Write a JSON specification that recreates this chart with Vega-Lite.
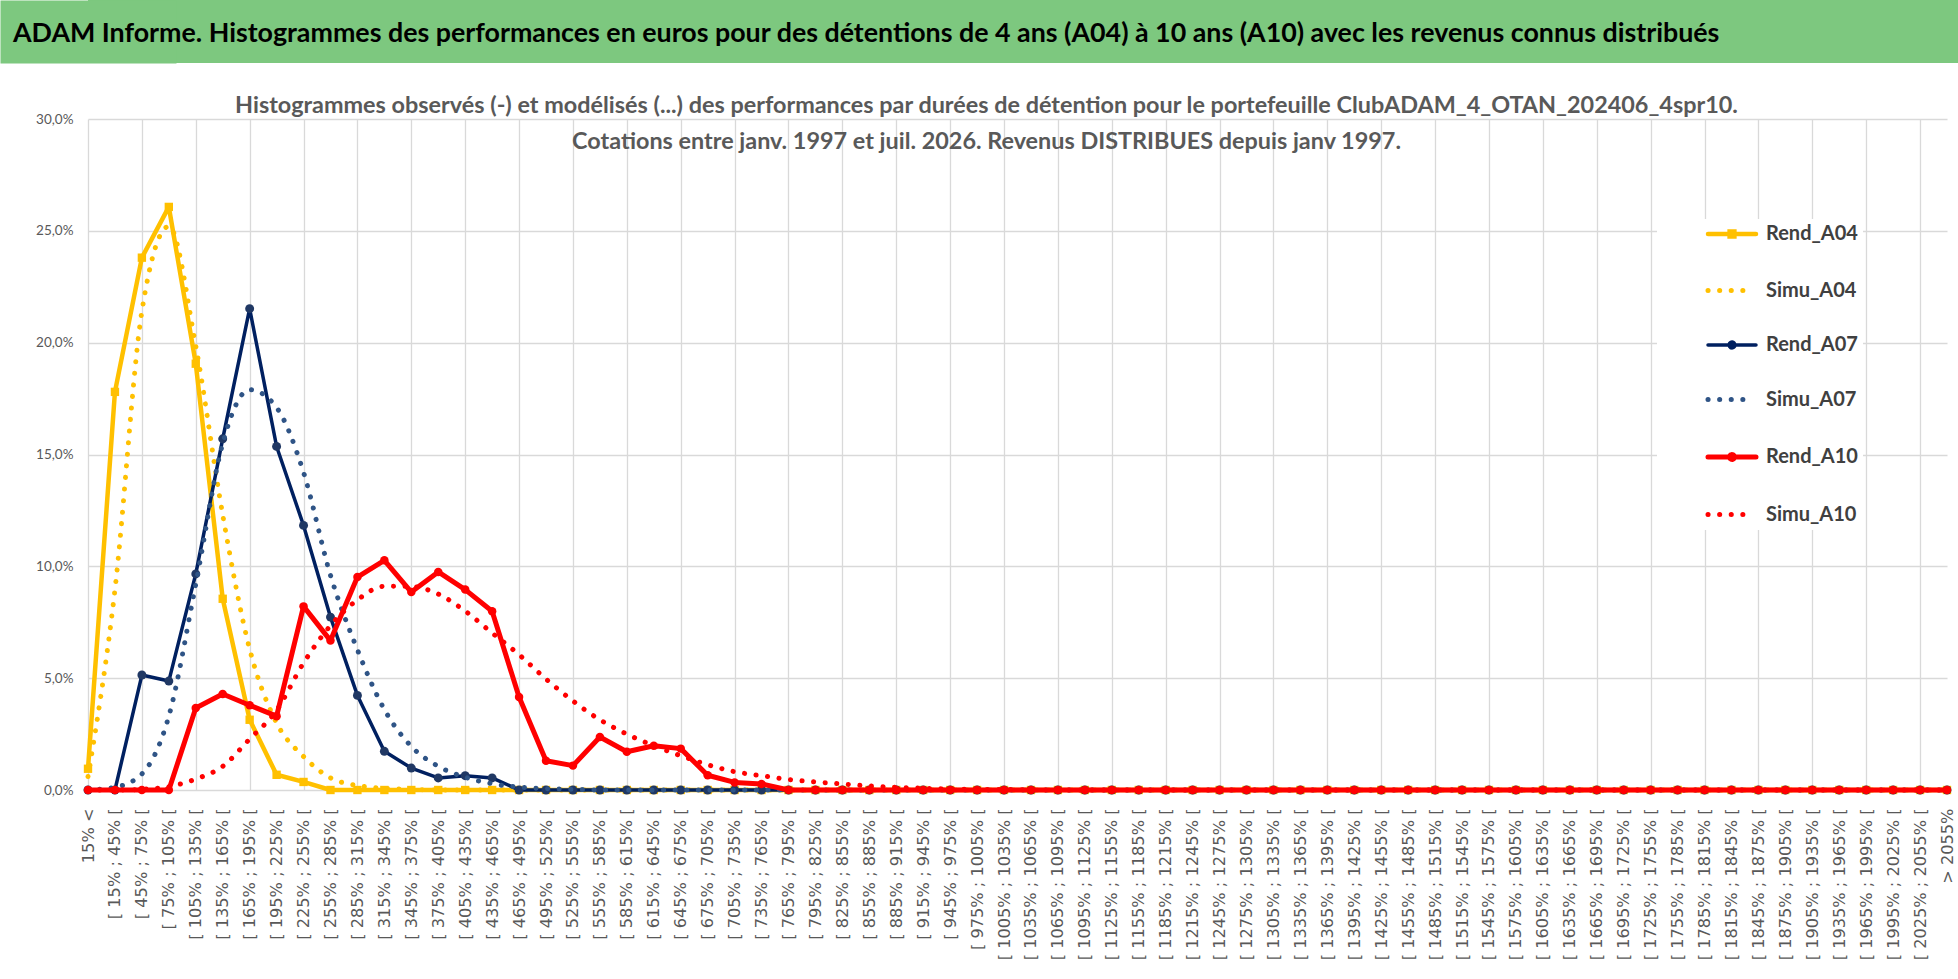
{
  "$schema": "https://vega.github.io/schema/vega-lite/v6.json",
  "background": "white",
  "padding": 0,
  "spacing": 30,
  "config": {"view": {"stroke": null}},
  "vconcat": [
    {
      "width": 1870,
      "height": 63,
      "view": {"fill": "#7DC87F", "stroke": null},
      "data": {"values": [{"t": "ADAM Informe. Histogrammes des performances en euros pour des détentions de 4 ans (A04) à 10 ans (A10) avec les revenus connus distribués"}]},
      "mark": {"type": "text", "align": "left", "baseline": "middle", "dx": -1010, "dy": 2, "font": "Lato", "fontSize": 26.8, "fontWeight": "bold", "color": "#000000"},
      "encoding": {
        "text": {"field": "t", "type": "nominal"},
        "y": {"datum": 0.5, "type": "quantitative", "scale": {"domain": [0, 1]},
              "axis": {"title": null, "labels": false, "ticks": false, "grid": false, "domain": true, "domainColor": "#7DC87F", "domainWidth": 176, "domainCap": "butt", "minExtent": 88, "maxExtent": 88}}
      }
    },
    {
      "width": 1859,
      "height": 671,
      "title": {
        "text": ["Histogrammes observés (-) et modélisés (...) des performances  par durées de détention pour  le portefeuille ClubADAM_4_OTAN_202406_4spr10.", "Cotations  entre janv. 1997 et juil. 2026. Revenus DISTRIBUES depuis janv 1997."],
        "font": "Lato", "fontSize": 23.4, "fontWeight": "bold", "color": "#595959",
        "anchor": "middle", "frame": "group", "offset": -42, "lineHeight": 36, "dx": -31
      },
      "data": {"values": [
{"c":"15% <","s":"Rend_A04","v":0.0095},{"c":"[ 15% ; 45% [","s":"Rend_A04","v":0.178},{"c":"[ 45% ; 75% [","s":"Rend_A04","v":0.238},{"c":"[ 75% ; 105% [","s":"Rend_A04","v":0.2607},{"c":"[ 105% ; 135% [","s":"Rend_A04","v":0.1906},{"c":"[ 135% ; 165% [","s":"Rend_A04","v":0.0855},{"c":"[ 165% ; 195% [","s":"Rend_A04","v":0.0314},{"c":"[ 195% ; 225% [","s":"Rend_A04","v":0.0068},{"c":"[ 225% ; 255% [","s":"Rend_A04","v":0.0036},{"c":"[ 255% ; 285% [","s":"Rend_A04","v":0},{"c":"[ 285% ; 315% [","s":"Rend_A04","v":0},{"c":"[ 315% ; 345% [","s":"Rend_A04","v":0},{"c":"[ 345% ; 375% [","s":"Rend_A04","v":0},{"c":"[ 375% ; 405% [","s":"Rend_A04","v":0},{"c":"[ 405% ; 435% [","s":"Rend_A04","v":0},{"c":"[ 435% ; 465% [","s":"Rend_A04","v":0},{"c":"[ 465% ; 495% [","s":"Rend_A04","v":0},{"c":"[ 495% ; 525% [","s":"Rend_A04","v":0},{"c":"[ 525% ; 555% [","s":"Rend_A04","v":0},{"c":"[ 555% ; 585% [","s":"Rend_A04","v":0},{"c":"[ 585% ; 615% [","s":"Rend_A04","v":0},{"c":"[ 615% ; 645% [","s":"Rend_A04","v":0},{"c":"[ 645% ; 675% [","s":"Rend_A04","v":0},{"c":"[ 675% ; 705% [","s":"Rend_A04","v":0},{"c":"[ 705% ; 735% [","s":"Rend_A04","v":0},{"c":"[ 735% ; 765% [","s":"Rend_A04","v":0},{"c":"[ 765% ; 795% [","s":"Rend_A04","v":0},{"c":"[ 795% ; 825% [","s":"Rend_A04","v":0},{"c":"[ 825% ; 855% [","s":"Rend_A04","v":0},{"c":"[ 855% ; 885% [","s":"Rend_A04","v":0},{"c":"[ 885% ; 915% [","s":"Rend_A04","v":0},{"c":"[ 915% ; 945% [","s":"Rend_A04","v":0},{"c":"[ 945% ; 975% [","s":"Rend_A04","v":0},{"c":"[ 975% ; 1005% [","s":"Rend_A04","v":0},{"c":"[ 1005% ; 1035% [","s":"Rend_A04","v":0},{"c":"[ 1035% ; 1065% [","s":"Rend_A04","v":0},{"c":"[ 1065% ; 1095% [","s":"Rend_A04","v":0},{"c":"[ 1095% ; 1125% [","s":"Rend_A04","v":0},{"c":"[ 1125% ; 1155% [","s":"Rend_A04","v":0},{"c":"[ 1155% ; 1185% [","s":"Rend_A04","v":0},{"c":"[ 1185% ; 1215% [","s":"Rend_A04","v":0},{"c":"[ 1215% ; 1245% [","s":"Rend_A04","v":0},{"c":"[ 1245% ; 1275% [","s":"Rend_A04","v":0},{"c":"[ 1275% ; 1305% [","s":"Rend_A04","v":0},{"c":"[ 1305% ; 1335% [","s":"Rend_A04","v":0},{"c":"[ 1335% ; 1365% [","s":"Rend_A04","v":0},{"c":"[ 1365% ; 1395% [","s":"Rend_A04","v":0},{"c":"[ 1395% ; 1425% [","s":"Rend_A04","v":0},{"c":"[ 1425% ; 1455% [","s":"Rend_A04","v":0},{"c":"[ 1455% ; 1485% [","s":"Rend_A04","v":0},{"c":"[ 1485% ; 1515% [","s":"Rend_A04","v":0},{"c":"[ 1515% ; 1545% [","s":"Rend_A04","v":0},{"c":"[ 1545% ; 1575% [","s":"Rend_A04","v":0},{"c":"[ 1575% ; 1605% [","s":"Rend_A04","v":0},{"c":"[ 1605% ; 1635% [","s":"Rend_A04","v":0},{"c":"[ 1635% ; 1665% [","s":"Rend_A04","v":0},{"c":"[ 1665% ; 1695% [","s":"Rend_A04","v":0},{"c":"[ 1695% ; 1725% [","s":"Rend_A04","v":0},{"c":"[ 1725% ; 1755% [","s":"Rend_A04","v":0},{"c":"[ 1755% ; 1785% [","s":"Rend_A04","v":0},{"c":"[ 1785% ; 1815% [","s":"Rend_A04","v":0},{"c":"[ 1815% ; 1845% [","s":"Rend_A04","v":0},{"c":"[ 1845% ; 1875% [","s":"Rend_A04","v":0},{"c":"[ 1875% ; 1905% [","s":"Rend_A04","v":0},{"c":"[ 1905% ; 1935% [","s":"Rend_A04","v":0},{"c":"[ 1935% ; 1965% [","s":"Rend_A04","v":0},{"c":"[ 1965% ; 1995% [","s":"Rend_A04","v":0},{"c":"[ 1995% ; 2025% [","s":"Rend_A04","v":0},{"c":"[ 2025% ; 2055% [","s":"Rend_A04","v":0},{"c":"> 2055%","s":"Rend_A04","v":0},
{"c":"15% <","s":"Simu_A04","v":0.006},{"c":"[ 15% ; 45% [","s":"Simu_A04","v":0.0895},{"c":"[ 45% ; 75% [","s":"Simu_A04","v":0.214},{"c":"[ 75% ; 105% [","s":"Simu_A04","v":0.252},{"c":"[ 105% ; 135% [","s":"Simu_A04","v":0.1985},{"c":"[ 135% ; 165% [","s":"Simu_A04","v":0.123},{"c":"[ 165% ; 195% [","s":"Simu_A04","v":0.063},{"c":"[ 195% ; 225% [","s":"Simu_A04","v":0.03},{"c":"[ 225% ; 255% [","s":"Simu_A04","v":0.015},{"c":"[ 255% ; 285% [","s":"Simu_A04","v":0.0054},{"c":"[ 285% ; 315% [","s":"Simu_A04","v":0.002},{"c":"[ 315% ; 345% [","s":"Simu_A04","v":0.0008},{"c":"[ 345% ; 375% [","s":"Simu_A04","v":0.0003},{"c":"[ 375% ; 405% [","s":"Simu_A04","v":0},{"c":"[ 405% ; 435% [","s":"Simu_A04","v":0},{"c":"[ 435% ; 465% [","s":"Simu_A04","v":0},{"c":"[ 465% ; 495% [","s":"Simu_A04","v":0},{"c":"[ 495% ; 525% [","s":"Simu_A04","v":0},{"c":"[ 525% ; 555% [","s":"Simu_A04","v":0},{"c":"[ 555% ; 585% [","s":"Simu_A04","v":0},{"c":"[ 585% ; 615% [","s":"Simu_A04","v":0},{"c":"[ 615% ; 645% [","s":"Simu_A04","v":0},{"c":"[ 645% ; 675% [","s":"Simu_A04","v":0},{"c":"[ 675% ; 705% [","s":"Simu_A04","v":0},{"c":"[ 705% ; 735% [","s":"Simu_A04","v":0},{"c":"[ 735% ; 765% [","s":"Simu_A04","v":0},{"c":"[ 765% ; 795% [","s":"Simu_A04","v":0},{"c":"[ 795% ; 825% [","s":"Simu_A04","v":0},{"c":"[ 825% ; 855% [","s":"Simu_A04","v":0},{"c":"[ 855% ; 885% [","s":"Simu_A04","v":0},{"c":"[ 885% ; 915% [","s":"Simu_A04","v":0},{"c":"[ 915% ; 945% [","s":"Simu_A04","v":0},{"c":"[ 945% ; 975% [","s":"Simu_A04","v":0},{"c":"[ 975% ; 1005% [","s":"Simu_A04","v":0},{"c":"[ 1005% ; 1035% [","s":"Simu_A04","v":0},{"c":"[ 1035% ; 1065% [","s":"Simu_A04","v":0},{"c":"[ 1065% ; 1095% [","s":"Simu_A04","v":0},{"c":"[ 1095% ; 1125% [","s":"Simu_A04","v":0},{"c":"[ 1125% ; 1155% [","s":"Simu_A04","v":0},{"c":"[ 1155% ; 1185% [","s":"Simu_A04","v":0},{"c":"[ 1185% ; 1215% [","s":"Simu_A04","v":0},{"c":"[ 1215% ; 1245% [","s":"Simu_A04","v":0},{"c":"[ 1245% ; 1275% [","s":"Simu_A04","v":0},{"c":"[ 1275% ; 1305% [","s":"Simu_A04","v":0},{"c":"[ 1305% ; 1335% [","s":"Simu_A04","v":0},{"c":"[ 1335% ; 1365% [","s":"Simu_A04","v":0},{"c":"[ 1365% ; 1395% [","s":"Simu_A04","v":0},{"c":"[ 1395% ; 1425% [","s":"Simu_A04","v":0},{"c":"[ 1425% ; 1455% [","s":"Simu_A04","v":0},{"c":"[ 1455% ; 1485% [","s":"Simu_A04","v":0},{"c":"[ 1485% ; 1515% [","s":"Simu_A04","v":0},{"c":"[ 1515% ; 1545% [","s":"Simu_A04","v":0},{"c":"[ 1545% ; 1575% [","s":"Simu_A04","v":0},{"c":"[ 1575% ; 1605% [","s":"Simu_A04","v":0},{"c":"[ 1605% ; 1635% [","s":"Simu_A04","v":0},{"c":"[ 1635% ; 1665% [","s":"Simu_A04","v":0},{"c":"[ 1665% ; 1695% [","s":"Simu_A04","v":0},{"c":"[ 1695% ; 1725% [","s":"Simu_A04","v":0},{"c":"[ 1725% ; 1755% [","s":"Simu_A04","v":0},{"c":"[ 1755% ; 1785% [","s":"Simu_A04","v":0},{"c":"[ 1785% ; 1815% [","s":"Simu_A04","v":0},{"c":"[ 1815% ; 1845% [","s":"Simu_A04","v":0},{"c":"[ 1845% ; 1875% [","s":"Simu_A04","v":0},{"c":"[ 1875% ; 1905% [","s":"Simu_A04","v":0},{"c":"[ 1905% ; 1935% [","s":"Simu_A04","v":0},{"c":"[ 1935% ; 1965% [","s":"Simu_A04","v":0},{"c":"[ 1965% ; 1995% [","s":"Simu_A04","v":0},{"c":"[ 1995% ; 2025% [","s":"Simu_A04","v":0},{"c":"[ 2025% ; 2055% [","s":"Simu_A04","v":0},{"c":"> 2055%","s":"Simu_A04","v":0},
{"c":"15% <","s":"Rend_A07","v":0},{"c":"[ 15% ; 45% [","s":"Rend_A07","v":0},{"c":"[ 45% ; 75% [","s":"Rend_A07","v":0.0514},{"c":"[ 75% ; 105% [","s":"Rend_A07","v":0.0487},{"c":"[ 105% ; 135% [","s":"Rend_A07","v":0.0966},{"c":"[ 135% ; 165% [","s":"Rend_A07","v":0.157},{"c":"[ 165% ; 195% [","s":"Rend_A07","v":0.2152},{"c":"[ 195% ; 225% [","s":"Rend_A07","v":0.1536},{"c":"[ 225% ; 255% [","s":"Rend_A07","v":0.1183},{"c":"[ 255% ; 285% [","s":"Rend_A07","v":0.0773},{"c":"[ 285% ; 315% [","s":"Rend_A07","v":0.0423},{"c":"[ 315% ; 345% [","s":"Rend_A07","v":0.0173},{"c":"[ 345% ; 375% [","s":"Rend_A07","v":0.0098},{"c":"[ 375% ; 405% [","s":"Rend_A07","v":0.0054},{"c":"[ 405% ; 435% [","s":"Rend_A07","v":0.0064},{"c":"[ 435% ; 465% [","s":"Rend_A07","v":0.0054},{"c":"[ 465% ; 495% [","s":"Rend_A07","v":0},{"c":"[ 495% ; 525% [","s":"Rend_A07","v":0},{"c":"[ 525% ; 555% [","s":"Rend_A07","v":0},{"c":"[ 555% ; 585% [","s":"Rend_A07","v":0},{"c":"[ 585% ; 615% [","s":"Rend_A07","v":0},{"c":"[ 615% ; 645% [","s":"Rend_A07","v":0},{"c":"[ 645% ; 675% [","s":"Rend_A07","v":0},{"c":"[ 675% ; 705% [","s":"Rend_A07","v":0},{"c":"[ 705% ; 735% [","s":"Rend_A07","v":0},{"c":"[ 735% ; 765% [","s":"Rend_A07","v":0},{"c":"[ 765% ; 795% [","s":"Rend_A07","v":0},{"c":"[ 795% ; 825% [","s":"Rend_A07","v":0},{"c":"[ 825% ; 855% [","s":"Rend_A07","v":0},{"c":"[ 855% ; 885% [","s":"Rend_A07","v":0},{"c":"[ 885% ; 915% [","s":"Rend_A07","v":0},{"c":"[ 915% ; 945% [","s":"Rend_A07","v":0},{"c":"[ 945% ; 975% [","s":"Rend_A07","v":0},{"c":"[ 975% ; 1005% [","s":"Rend_A07","v":0},{"c":"[ 1005% ; 1035% [","s":"Rend_A07","v":0},{"c":"[ 1035% ; 1065% [","s":"Rend_A07","v":0},{"c":"[ 1065% ; 1095% [","s":"Rend_A07","v":0},{"c":"[ 1095% ; 1125% [","s":"Rend_A07","v":0},{"c":"[ 1125% ; 1155% [","s":"Rend_A07","v":0},{"c":"[ 1155% ; 1185% [","s":"Rend_A07","v":0},{"c":"[ 1185% ; 1215% [","s":"Rend_A07","v":0},{"c":"[ 1215% ; 1245% [","s":"Rend_A07","v":0},{"c":"[ 1245% ; 1275% [","s":"Rend_A07","v":0},{"c":"[ 1275% ; 1305% [","s":"Rend_A07","v":0},{"c":"[ 1305% ; 1335% [","s":"Rend_A07","v":0},{"c":"[ 1335% ; 1365% [","s":"Rend_A07","v":0},{"c":"[ 1365% ; 1395% [","s":"Rend_A07","v":0},{"c":"[ 1395% ; 1425% [","s":"Rend_A07","v":0},{"c":"[ 1425% ; 1455% [","s":"Rend_A07","v":0},{"c":"[ 1455% ; 1485% [","s":"Rend_A07","v":0},{"c":"[ 1485% ; 1515% [","s":"Rend_A07","v":0},{"c":"[ 1515% ; 1545% [","s":"Rend_A07","v":0},{"c":"[ 1545% ; 1575% [","s":"Rend_A07","v":0},{"c":"[ 1575% ; 1605% [","s":"Rend_A07","v":0},{"c":"[ 1605% ; 1635% [","s":"Rend_A07","v":0},{"c":"[ 1635% ; 1665% [","s":"Rend_A07","v":0},{"c":"[ 1665% ; 1695% [","s":"Rend_A07","v":0},{"c":"[ 1695% ; 1725% [","s":"Rend_A07","v":0},{"c":"[ 1725% ; 1755% [","s":"Rend_A07","v":0},{"c":"[ 1755% ; 1785% [","s":"Rend_A07","v":0},{"c":"[ 1785% ; 1815% [","s":"Rend_A07","v":0},{"c":"[ 1815% ; 1845% [","s":"Rend_A07","v":0},{"c":"[ 1845% ; 1875% [","s":"Rend_A07","v":0},{"c":"[ 1875% ; 1905% [","s":"Rend_A07","v":0},{"c":"[ 1905% ; 1935% [","s":"Rend_A07","v":0},{"c":"[ 1935% ; 1965% [","s":"Rend_A07","v":0},{"c":"[ 1965% ; 1995% [","s":"Rend_A07","v":0},{"c":"[ 1995% ; 2025% [","s":"Rend_A07","v":0},{"c":"[ 2025% ; 2055% [","s":"Rend_A07","v":0},{"c":"> 2055%","s":"Rend_A07","v":0},
{"c":"15% <","s":"Simu_A07","v":0},{"c":"[ 15% ; 45% [","s":"Simu_A07","v":0.0012},{"c":"[ 45% ; 75% [","s":"Simu_A07","v":0.0072},{"c":"[ 75% ; 105% [","s":"Simu_A07","v":0.033},{"c":"[ 105% ; 135% [","s":"Simu_A07","v":0.092},{"c":"[ 135% ; 165% [","s":"Simu_A07","v":0.155},{"c":"[ 165% ; 195% [","s":"Simu_A07","v":0.179},{"c":"[ 195% ; 225% [","s":"Simu_A07","v":0.171},{"c":"[ 225% ; 255% [","s":"Simu_A07","v":0.142},{"c":"[ 255% ; 285% [","s":"Simu_A07","v":0.096},{"c":"[ 285% ; 315% [","s":"Simu_A07","v":0.0627},{"c":"[ 315% ; 345% [","s":"Simu_A07","v":0.036},{"c":"[ 345% ; 375% [","s":"Simu_A07","v":0.0195},{"c":"[ 375% ; 405% [","s":"Simu_A07","v":0.0106},{"c":"[ 405% ; 435% [","s":"Simu_A07","v":0.0057},{"c":"[ 435% ; 465% [","s":"Simu_A07","v":0.0028},{"c":"[ 465% ; 495% [","s":"Simu_A07","v":0.0013},{"c":"[ 495% ; 525% [","s":"Simu_A07","v":0.0006},{"c":"[ 525% ; 555% [","s":"Simu_A07","v":0.0003},{"c":"[ 555% ; 585% [","s":"Simu_A07","v":0},{"c":"[ 585% ; 615% [","s":"Simu_A07","v":0},{"c":"[ 615% ; 645% [","s":"Simu_A07","v":0},{"c":"[ 645% ; 675% [","s":"Simu_A07","v":0},{"c":"[ 675% ; 705% [","s":"Simu_A07","v":0},{"c":"[ 705% ; 735% [","s":"Simu_A07","v":0},{"c":"[ 735% ; 765% [","s":"Simu_A07","v":0},{"c":"[ 765% ; 795% [","s":"Simu_A07","v":0},{"c":"[ 795% ; 825% [","s":"Simu_A07","v":0},{"c":"[ 825% ; 855% [","s":"Simu_A07","v":0},{"c":"[ 855% ; 885% [","s":"Simu_A07","v":0},{"c":"[ 885% ; 915% [","s":"Simu_A07","v":0},{"c":"[ 915% ; 945% [","s":"Simu_A07","v":0},{"c":"[ 945% ; 975% [","s":"Simu_A07","v":0},{"c":"[ 975% ; 1005% [","s":"Simu_A07","v":0},{"c":"[ 1005% ; 1035% [","s":"Simu_A07","v":0},{"c":"[ 1035% ; 1065% [","s":"Simu_A07","v":0},{"c":"[ 1065% ; 1095% [","s":"Simu_A07","v":0},{"c":"[ 1095% ; 1125% [","s":"Simu_A07","v":0},{"c":"[ 1125% ; 1155% [","s":"Simu_A07","v":0},{"c":"[ 1155% ; 1185% [","s":"Simu_A07","v":0},{"c":"[ 1185% ; 1215% [","s":"Simu_A07","v":0},{"c":"[ 1215% ; 1245% [","s":"Simu_A07","v":0},{"c":"[ 1245% ; 1275% [","s":"Simu_A07","v":0},{"c":"[ 1275% ; 1305% [","s":"Simu_A07","v":0},{"c":"[ 1305% ; 1335% [","s":"Simu_A07","v":0},{"c":"[ 1335% ; 1365% [","s":"Simu_A07","v":0},{"c":"[ 1365% ; 1395% [","s":"Simu_A07","v":0},{"c":"[ 1395% ; 1425% [","s":"Simu_A07","v":0},{"c":"[ 1425% ; 1455% [","s":"Simu_A07","v":0},{"c":"[ 1455% ; 1485% [","s":"Simu_A07","v":0},{"c":"[ 1485% ; 1515% [","s":"Simu_A07","v":0},{"c":"[ 1515% ; 1545% [","s":"Simu_A07","v":0},{"c":"[ 1545% ; 1575% [","s":"Simu_A07","v":0},{"c":"[ 1575% ; 1605% [","s":"Simu_A07","v":0},{"c":"[ 1605% ; 1635% [","s":"Simu_A07","v":0},{"c":"[ 1635% ; 1665% [","s":"Simu_A07","v":0},{"c":"[ 1665% ; 1695% [","s":"Simu_A07","v":0},{"c":"[ 1695% ; 1725% [","s":"Simu_A07","v":0},{"c":"[ 1725% ; 1755% [","s":"Simu_A07","v":0},{"c":"[ 1755% ; 1785% [","s":"Simu_A07","v":0},{"c":"[ 1785% ; 1815% [","s":"Simu_A07","v":0},{"c":"[ 1815% ; 1845% [","s":"Simu_A07","v":0},{"c":"[ 1845% ; 1875% [","s":"Simu_A07","v":0},{"c":"[ 1875% ; 1905% [","s":"Simu_A07","v":0},{"c":"[ 1905% ; 1935% [","s":"Simu_A07","v":0},{"c":"[ 1935% ; 1965% [","s":"Simu_A07","v":0},{"c":"[ 1965% ; 1995% [","s":"Simu_A07","v":0},{"c":"[ 1995% ; 2025% [","s":"Simu_A07","v":0},{"c":"[ 2025% ; 2055% [","s":"Simu_A07","v":0},{"c":"> 2055%","s":"Simu_A07","v":0},
{"c":"15% <","s":"Rend_A10","v":0},{"c":"[ 15% ; 45% [","s":"Rend_A10","v":0},{"c":"[ 45% ; 75% [","s":"Rend_A10","v":0},{"c":"[ 75% ; 105% [","s":"Rend_A10","v":0},{"c":"[ 105% ; 135% [","s":"Rend_A10","v":0.0367},{"c":"[ 135% ; 165% [","s":"Rend_A10","v":0.0429},{"c":"[ 165% ; 195% [","s":"Rend_A10","v":0.0379},{"c":"[ 195% ; 225% [","s":"Rend_A10","v":0.033},{"c":"[ 225% ; 255% [","s":"Rend_A10","v":0.0821},{"c":"[ 255% ; 285% [","s":"Rend_A10","v":0.0668},{"c":"[ 285% ; 315% [","s":"Rend_A10","v":0.0952},{"c":"[ 315% ; 345% [","s":"Rend_A10","v":0.1027},{"c":"[ 345% ; 375% [","s":"Rend_A10","v":0.0885},{"c":"[ 375% ; 405% [","s":"Rend_A10","v":0.0975},{"c":"[ 405% ; 435% [","s":"Rend_A10","v":0.0896},{"c":"[ 435% ; 465% [","s":"Rend_A10","v":0.0799},{"c":"[ 465% ; 495% [","s":"Rend_A10","v":0.0416},{"c":"[ 495% ; 525% [","s":"Rend_A10","v":0.0131},{"c":"[ 525% ; 555% [","s":"Rend_A10","v":0.0109},{"c":"[ 555% ; 585% [","s":"Rend_A10","v":0.0237},{"c":"[ 585% ; 615% [","s":"Rend_A10","v":0.0171},{"c":"[ 615% ; 645% [","s":"Rend_A10","v":0.0198},{"c":"[ 645% ; 675% [","s":"Rend_A10","v":0.0185},{"c":"[ 675% ; 705% [","s":"Rend_A10","v":0.0066},{"c":"[ 705% ; 735% [","s":"Rend_A10","v":0.0034},{"c":"[ 735% ; 765% [","s":"Rend_A10","v":0.0027},{"c":"[ 765% ; 795% [","s":"Rend_A10","v":0},{"c":"[ 795% ; 825% [","s":"Rend_A10","v":0},{"c":"[ 825% ; 855% [","s":"Rend_A10","v":0},{"c":"[ 855% ; 885% [","s":"Rend_A10","v":0},{"c":"[ 885% ; 915% [","s":"Rend_A10","v":0},{"c":"[ 915% ; 945% [","s":"Rend_A10","v":0},{"c":"[ 945% ; 975% [","s":"Rend_A10","v":0},{"c":"[ 975% ; 1005% [","s":"Rend_A10","v":0},{"c":"[ 1005% ; 1035% [","s":"Rend_A10","v":0},{"c":"[ 1035% ; 1065% [","s":"Rend_A10","v":0},{"c":"[ 1065% ; 1095% [","s":"Rend_A10","v":0},{"c":"[ 1095% ; 1125% [","s":"Rend_A10","v":0},{"c":"[ 1125% ; 1155% [","s":"Rend_A10","v":0},{"c":"[ 1155% ; 1185% [","s":"Rend_A10","v":0},{"c":"[ 1185% ; 1215% [","s":"Rend_A10","v":0},{"c":"[ 1215% ; 1245% [","s":"Rend_A10","v":0},{"c":"[ 1245% ; 1275% [","s":"Rend_A10","v":0},{"c":"[ 1275% ; 1305% [","s":"Rend_A10","v":0},{"c":"[ 1305% ; 1335% [","s":"Rend_A10","v":0},{"c":"[ 1335% ; 1365% [","s":"Rend_A10","v":0},{"c":"[ 1365% ; 1395% [","s":"Rend_A10","v":0},{"c":"[ 1395% ; 1425% [","s":"Rend_A10","v":0},{"c":"[ 1425% ; 1455% [","s":"Rend_A10","v":0},{"c":"[ 1455% ; 1485% [","s":"Rend_A10","v":0},{"c":"[ 1485% ; 1515% [","s":"Rend_A10","v":0},{"c":"[ 1515% ; 1545% [","s":"Rend_A10","v":0},{"c":"[ 1545% ; 1575% [","s":"Rend_A10","v":0},{"c":"[ 1575% ; 1605% [","s":"Rend_A10","v":0},{"c":"[ 1605% ; 1635% [","s":"Rend_A10","v":0},{"c":"[ 1635% ; 1665% [","s":"Rend_A10","v":0},{"c":"[ 1665% ; 1695% [","s":"Rend_A10","v":0},{"c":"[ 1695% ; 1725% [","s":"Rend_A10","v":0},{"c":"[ 1725% ; 1755% [","s":"Rend_A10","v":0},{"c":"[ 1755% ; 1785% [","s":"Rend_A10","v":0},{"c":"[ 1785% ; 1815% [","s":"Rend_A10","v":0},{"c":"[ 1815% ; 1845% [","s":"Rend_A10","v":0},{"c":"[ 1845% ; 1875% [","s":"Rend_A10","v":0},{"c":"[ 1875% ; 1905% [","s":"Rend_A10","v":0},{"c":"[ 1905% ; 1935% [","s":"Rend_A10","v":0},{"c":"[ 1935% ; 1965% [","s":"Rend_A10","v":0},{"c":"[ 1965% ; 1995% [","s":"Rend_A10","v":0},{"c":"[ 1995% ; 2025% [","s":"Rend_A10","v":0},{"c":"[ 2025% ; 2055% [","s":"Rend_A10","v":0},{"c":"> 2055%","s":"Rend_A10","v":0},
{"c":"15% <","s":"Simu_A10","v":0},{"c":"[ 15% ; 45% [","s":"Simu_A10","v":0},{"c":"[ 45% ; 75% [","s":"Simu_A10","v":0.0003},{"c":"[ 75% ; 105% [","s":"Simu_A10","v":0.0015},{"c":"[ 105% ; 135% [","s":"Simu_A10","v":0.0049},{"c":"[ 135% ; 165% [","s":"Simu_A10","v":0.0106},{"c":"[ 165% ; 195% [","s":"Simu_A10","v":0.0228},{"c":"[ 195% ; 225% [","s":"Simu_A10","v":0.0356},{"c":"[ 225% ; 255% [","s":"Simu_A10","v":0.0568},{"c":"[ 255% ; 285% [","s":"Simu_A10","v":0.0735},{"c":"[ 285% ; 315% [","s":"Simu_A10","v":0.085},{"c":"[ 315% ; 345% [","s":"Simu_A10","v":0.0911},{"c":"[ 345% ; 375% [","s":"Simu_A10","v":0.091},{"c":"[ 375% ; 405% [","s":"Simu_A10","v":0.0876},{"c":"[ 405% ; 435% [","s":"Simu_A10","v":0.08},{"c":"[ 435% ; 465% [","s":"Simu_A10","v":0.0702},{"c":"[ 465% ; 495% [","s":"Simu_A10","v":0.0605},{"c":"[ 495% ; 525% [","s":"Simu_A10","v":0.0496},{"c":"[ 525% ; 555% [","s":"Simu_A10","v":0.0398},{"c":"[ 555% ; 585% [","s":"Simu_A10","v":0.0314},{"c":"[ 585% ; 615% [","s":"Simu_A10","v":0.025},{"c":"[ 615% ; 645% [","s":"Simu_A10","v":0.0198},{"c":"[ 645% ; 675% [","s":"Simu_A10","v":0.0153},{"c":"[ 675% ; 705% [","s":"Simu_A10","v":0.0113},{"c":"[ 705% ; 735% [","s":"Simu_A10","v":0.0082},{"c":"[ 735% ; 765% [","s":"Simu_A10","v":0.0064},{"c":"[ 765% ; 795% [","s":"Simu_A10","v":0.0047},{"c":"[ 795% ; 825% [","s":"Simu_A10","v":0.0036},{"c":"[ 825% ; 855% [","s":"Simu_A10","v":0.0027},{"c":"[ 855% ; 885% [","s":"Simu_A10","v":0.0018},{"c":"[ 885% ; 915% [","s":"Simu_A10","v":0.0012},{"c":"[ 915% ; 945% [","s":"Simu_A10","v":0.0008},{"c":"[ 945% ; 975% [","s":"Simu_A10","v":0.0005},{"c":"[ 975% ; 1005% [","s":"Simu_A10","v":0.0003},{"c":"[ 1005% ; 1035% [","s":"Simu_A10","v":0.0002},{"c":"[ 1035% ; 1065% [","s":"Simu_A10","v":0.0001},{"c":"[ 1065% ; 1095% [","s":"Simu_A10","v":0},{"c":"[ 1095% ; 1125% [","s":"Simu_A10","v":0},{"c":"[ 1125% ; 1155% [","s":"Simu_A10","v":0},{"c":"[ 1155% ; 1185% [","s":"Simu_A10","v":0},{"c":"[ 1185% ; 1215% [","s":"Simu_A10","v":0},{"c":"[ 1215% ; 1245% [","s":"Simu_A10","v":0},{"c":"[ 1245% ; 1275% [","s":"Simu_A10","v":0},{"c":"[ 1275% ; 1305% [","s":"Simu_A10","v":0},{"c":"[ 1305% ; 1335% [","s":"Simu_A10","v":0},{"c":"[ 1335% ; 1365% [","s":"Simu_A10","v":0},{"c":"[ 1365% ; 1395% [","s":"Simu_A10","v":0},{"c":"[ 1395% ; 1425% [","s":"Simu_A10","v":0},{"c":"[ 1425% ; 1455% [","s":"Simu_A10","v":0},{"c":"[ 1455% ; 1485% [","s":"Simu_A10","v":0},{"c":"[ 1485% ; 1515% [","s":"Simu_A10","v":0},{"c":"[ 1515% ; 1545% [","s":"Simu_A10","v":0},{"c":"[ 1545% ; 1575% [","s":"Simu_A10","v":0},{"c":"[ 1575% ; 1605% [","s":"Simu_A10","v":0},{"c":"[ 1605% ; 1635% [","s":"Simu_A10","v":0},{"c":"[ 1635% ; 1665% [","s":"Simu_A10","v":0},{"c":"[ 1665% ; 1695% [","s":"Simu_A10","v":0},{"c":"[ 1695% ; 1725% [","s":"Simu_A10","v":0},{"c":"[ 1725% ; 1755% [","s":"Simu_A10","v":0},{"c":"[ 1755% ; 1785% [","s":"Simu_A10","v":0},{"c":"[ 1785% ; 1815% [","s":"Simu_A10","v":0},{"c":"[ 1815% ; 1845% [","s":"Simu_A10","v":0},{"c":"[ 1845% ; 1875% [","s":"Simu_A10","v":0},{"c":"[ 1875% ; 1905% [","s":"Simu_A10","v":0},{"c":"[ 1905% ; 1935% [","s":"Simu_A10","v":0},{"c":"[ 1935% ; 1965% [","s":"Simu_A10","v":0},{"c":"[ 1965% ; 1995% [","s":"Simu_A10","v":0},{"c":"[ 1995% ; 2025% [","s":"Simu_A10","v":0},{"c":"[ 2025% ; 2055% [","s":"Simu_A10","v":0},{"c":"> 2055%","s":"Simu_A10","v":0}
      ]},
      "encoding": {
        "x": {
          "field": "c", "type": "nominal",
          "scale": {"type": "point", "padding": 0, "domain": ["15% <","[ 15% ; 45% [","[ 45% ; 75% [","[ 75% ; 105% [","[ 105% ; 135% [","[ 135% ; 165% [","[ 165% ; 195% [","[ 195% ; 225% [","[ 225% ; 255% [","[ 255% ; 285% [","[ 285% ; 315% [","[ 315% ; 345% [","[ 345% ; 375% [","[ 375% ; 405% [","[ 405% ; 435% [","[ 435% ; 465% [","[ 465% ; 495% [","[ 495% ; 525% [","[ 525% ; 555% [","[ 555% ; 585% [","[ 585% ; 615% [","[ 615% ; 645% [","[ 645% ; 675% [","[ 675% ; 705% [","[ 705% ; 735% [","[ 735% ; 765% [","[ 765% ; 795% [","[ 795% ; 825% [","[ 825% ; 855% [","[ 855% ; 885% [","[ 885% ; 915% [","[ 915% ; 945% [","[ 945% ; 975% [","[ 975% ; 1005% [","[ 1005% ; 1035% [","[ 1035% ; 1065% [","[ 1065% ; 1095% [","[ 1095% ; 1125% [","[ 1125% ; 1155% [","[ 1155% ; 1185% [","[ 1185% ; 1215% [","[ 1215% ; 1245% [","[ 1245% ; 1275% [","[ 1275% ; 1305% [","[ 1305% ; 1335% [","[ 1335% ; 1365% [","[ 1365% ; 1395% [","[ 1395% ; 1425% [","[ 1425% ; 1455% [","[ 1455% ; 1485% [","[ 1485% ; 1515% [","[ 1515% ; 1545% [","[ 1545% ; 1575% [","[ 1575% ; 1605% [","[ 1605% ; 1635% [","[ 1635% ; 1665% [","[ 1665% ; 1695% [","[ 1695% ; 1725% [","[ 1725% ; 1755% [","[ 1755% ; 1785% [","[ 1785% ; 1815% [","[ 1815% ; 1845% [","[ 1845% ; 1875% [","[ 1875% ; 1905% [","[ 1905% ; 1935% [","[ 1935% ; 1965% [","[ 1965% ; 1995% [","[ 1995% ; 2025% [","[ 2025% ; 2055% [","> 2055%"]},
          "axis": {
            "title": null, "labelAngle": -90, "labelFont": "DejaVu Sans", "labelFontSize": 16.2, "labelColor": "#595959",
            "labelPadding": 18, "labelOverlap": false, "labelBound": false, "domain": false, "ticks": false,
            "grid": true, "gridColor": "#d9d9d9", "gridWidth": 1.3,
            "gridOpacity": {"condition": {"test": "datum.value == '15% <' || parseInt(substring(datum.value, 2)) % 60 == 45", "value": 1}, "value": 0}
          }
        },
        "y": {
          "field": "v", "type": "quantitative",
          "scale": {"domain": [0, 0.3], "nice": false},
          "axis": {
            "title": null, "values": [0, 0.05, 0.1, 0.15, 0.2, 0.25, 0.3],
            "labelExpr": "replace(format(datum.value, '.1%'), '.', ',')",
            "labelFont": "Lato", "labelFontSize": 13.5, "labelColor": "#595959",
            "labelPadding": 15, "domain": false, "ticks": false,
            "grid": true, "gridColor": "#d9d9d9", "gridWidth": 1.3,
            "minExtent": 88, "maxExtent": 88
          }
        }
      },
      "layer": [
        {
          "transform": [{"filter": "datum.s == 'Rend_A04'"}],
          "mark": {"type": "line", "strokeWidth": 4.5, "strokeJoin": "round", "strokeCap": "round"},
          "encoding": {
            "color": {
              "field": "s", "type": "nominal",
              "scale": {"domain": ["Rend_A04", "Simu_A04", "Rend_A07", "Simu_A07", "Rend_A10", "Simu_A10"], "range": ["#FFC000", "#FFC000", "#002060", "#2F5486", "#FF0000", "#FF0000"]},
              "legend": {
                "title": null, "orient": "none", "legendX": 1569, "legendY": 219,
                "fillColor": "white", "padding": 5, "symbolOffset": 60,
                "symbolSize": 2304, "symbolType": "stroke",
                "labelFont": "Lato", "labelFontSize": 20, "labelFontWeight": "bold", "labelColor": "#404040",
                "labelOffset": 24, "rowPadding": 34.5, "labelLimit": 300,
                "encode": {
                  "symbols": {
                    "update": {
                      "shape": {"signal": "datum.value == 'Rend_A04' ? 'M-1,0H1M-0.1,-0.1H0.1V0.1H-0.1Z' : datum.value == 'Rend_A07' ? 'M-1,0H1M0.12,0A0.12,0.12,0,1,1,-0.12,0A0.12,0.12,0,1,1,0.12,0' : datum.value == 'Rend_A10' ? 'M-1,0H1M0.1,0A0.1,0.1,0,1,1,-0.1,0A0.1,0.1,0,1,1,0.1,0' : 'M-1,0H0.75'"},
                      "strokeWidth": {"signal": "datum.value == 'Rend_A07' ? 3.5 : datum.value == 'Rend_A04' ? 4.5 : 5"},
                      "strokeDash": {"signal": "indexof(datum.value, 'Simu') == 0 ? [0.1, 11.5] : [1, 0]"},
                      "strokeCap": {"value": "round"},
                      "fill": {"scale": "color", "field": "value"},
                      "fillOpacity": {"value": 1}
                    }
                  }
                }
              }
            }
          }
        },
        {
          "transform": [{"filter": "datum.s == 'Rend_A04'"}],
          "mark": {"type": "point", "shape": "square", "filled": true, "size": 70, "color": "#FFC000", "opacity": 1}
        },
        {
          "transform": [{"filter": "datum.s == 'Simu_A04'"}],
          "mark": {"type": "line", "strokeWidth": 5, "strokeDash": [0.1, 11.5], "strokeCap": "round", "interpolate": "monotone"},
          "encoding": {"color": {"field": "s", "type": "nominal"}}
        },
        {
          "transform": [{"filter": "datum.s == 'Rend_A07'"}],
          "mark": {"type": "line", "strokeWidth": 3.5, "strokeJoin": "round", "strokeCap": "round"},
          "encoding": {"color": {"field": "s", "type": "nominal"}}
        },
        {
          "transform": [{"filter": "datum.s == 'Rend_A07'"}],
          "mark": {"type": "point", "shape": "circle", "filled": true, "size": 80, "color": "#203864", "opacity": 1}
        },
        {
          "transform": [{"filter": "datum.s == 'Simu_A07'"}],
          "mark": {"type": "line", "strokeWidth": 5, "strokeDash": [0.1, 11.5], "strokeCap": "round", "interpolate": "monotone"},
          "encoding": {"color": {"field": "s", "type": "nominal"}}
        },
        {
          "transform": [{"filter": "datum.s == 'Rend_A10'"}],
          "mark": {"type": "line", "strokeWidth": 5, "strokeJoin": "round", "strokeCap": "round"},
          "encoding": {"color": {"field": "s", "type": "nominal"}}
        },
        {
          "transform": [{"filter": "datum.s == 'Rend_A10'"}],
          "mark": {"type": "point", "shape": "circle", "filled": true, "size": 72, "color": "#FF0000", "opacity": 1}
        },
        {
          "transform": [{"filter": "datum.s == 'Simu_A10'"}],
          "mark": {"type": "line", "strokeWidth": 5, "strokeDash": [0.1, 11.5], "strokeCap": "round", "interpolate": "monotone"},
          "encoding": {"color": {"field": "s", "type": "nominal"}}
        }
      ]
    }
  ]
}
